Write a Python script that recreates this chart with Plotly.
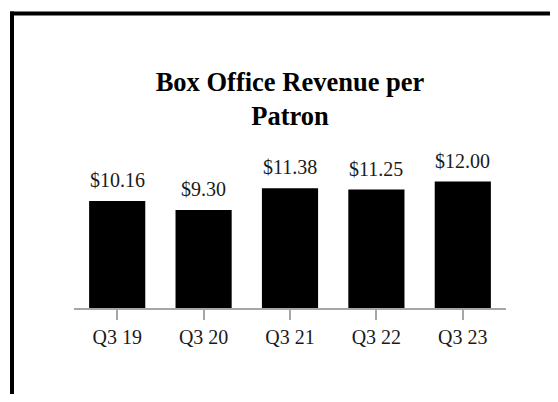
import plotly.graph_objects as go

categories = ["Q3 19", "Q3 20", "Q3 21", "Q3 22", "Q3 23"]
revenue_per_patron = [10.16, 9.30, 11.38, 11.25, 12.00]
title_text = "<b>Box Office Revenue per<br>Patron</b>"

# page body has an 8px default margin; keep the page free of scrollbars
OFF = 8
W, H = 558 - OFF, 402 - 2 * OFF
L, T = 74 - OFF, 150 - OFF
PW, PH = 432, 158
R, B = W - L - PW, H - T - PH


def px_x(x):
    return (x - OFF - L) / PW


def px_y(y):
    return (H - B - (y - OFF)) / PH


fig = go.Figure(
    go.Bar(
        x=categories,
        y=revenue_per_patron,
        marker=dict(color="#000000", line=dict(width=0)),
        hoverinfo="skip",
    )
)

for cat, val in zip(categories, revenue_per_patron):
    fig.add_annotation(
        x=cat, y=val, text=f"${val:.2f}", showarrow=False,
        xanchor="center", yanchor="bottom", yshift=8,
        font=dict(family="Liberation Serif", size=20, color="#1a1a1a"),
    )

fig.update_layout(
    width=W,
    height=H,
    margin=dict(l=L, r=R, t=T, b=B, pad=0),
    paper_bgcolor="white",
    plot_bgcolor="white",
    bargap=0.35,
    showlegend=False,
    font=dict(family="Liberation Serif", color="#1a1a1a"),
    title=dict(
        text=title_text,
        x=0.5,
        xref="paper",
        xanchor="center",
        y=1 - 83 / H,
        yref="container",
        yanchor="top",
        font=dict(family="Liberation Serif", size=26.5, color="#000000"),
    ),
    xaxis=dict(
        showline=True,
        linecolor="#a6a6a6",
        linewidth=2,
        ticks="outside",
        ticklen=10,
        tickwidth=2,
        tickcolor="#a6a6a6",
        tickfont=dict(family="Liberation Serif", size=20, color="#1a1a1a"),
        showgrid=False,
        zeroline=False,
    ),
    yaxis=dict(visible=False, range=[0, 15], showgrid=False, zeroline=False),
    shapes=[
        dict(type="line", xref="paper", yref="paper",
             x0=px_x(10), x1=px_x(558), y0=px_y(13.5), y1=px_y(13.5),
             line=dict(color="#000000", width=4)),
        dict(type="line", xref="paper", yref="paper",
             x0=px_x(12), x1=px_x(12), y0=px_y(11.5), y1=px_y(402),
             line=dict(color="#000000", width=4)),
    ],
)

fig.write_html("out.html")
